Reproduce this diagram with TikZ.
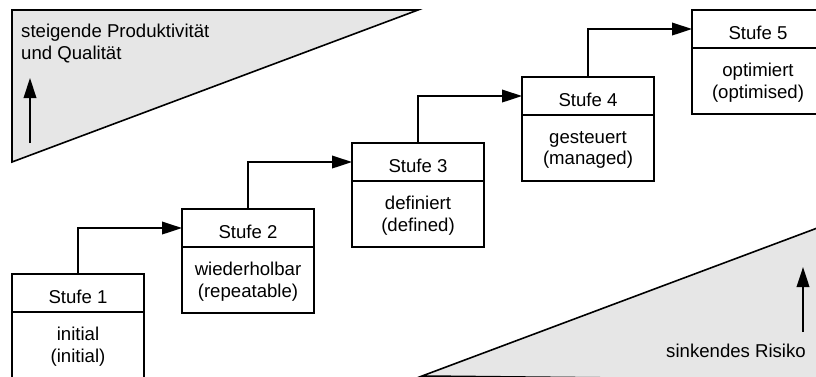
\documentclass[tikz,border=0pt]{standalone}
\usepackage{fontspec}
\setmainfont{Liberation Sans}
\usepackage{tikz}
\usetikzlibrary{arrows.meta, positioning}
\usepackage{xcolor}
\definecolor{keilgrau}{RGB}{230,230,230}

\begin{document}
\begin{tikzpicture}[
      x=1pt, y=-1pt,
      every node/.style={font=\fontsize{18.6}{21.5}\selectfont},
      kopf/.style={
        rectangle, draw=black, fill=white, line width=2pt,
        minimum width=132pt, minimum height=38pt,
        inner sep=0pt, outer sep=0pt,
        text height=21pt, text depth=0pt
      },
      rumpf/.style={
        kopf, minimum height=66pt, align=center,
        text height={}, text depth=0pt
      },
      keil/.style={draw=black, fill=keilgrau, line width=1.6pt, line join=miter},
      pfeil/.style={-{Triangle[length=20pt, width=12.5pt]}, line width=2.2pt, color=black}
    ]
      \useasboundingbox (0,0) rectangle (816,376);
      \clip (0,0) rectangle (816,376);

      % Keile
      \draw[keil] (12,10) -- (418,10) -- (12,162) -- cycle;
      \draw[keil] (422,376) -- (820,227) -- (820,380) -- cycle;

      \node[anchor=north west, inner sep=0pt, align=left] (prod) at (21,24)
        {steigende Produktivität\\und Qualität};
      \node[anchor=base east, inner sep=0pt] (risiko) at (806,357) {sinkendes Risiko};

      \coordinate (prodfuss) at (30,143);
      \coordinate (prodspitze) at (30,78);
      \coordinate (risikofuss) at (803,332);
      \coordinate (risikospitze) at (803,267);
      \draw[pfeil] (prodfuss) -- (prodspitze);
      \draw[pfeil] (risikofuss) -- (risikospitze);

      % Stufen
      \node[kopf] (stufe1) at (78,293) {Stufe 1};
      \node[rumpf, below=0pt of stufe1] (desc1) {initial\\(initial)};
      \node[kopf] (stufe2) at (248,228) {Stufe 2};
      \node[rumpf, below=0pt of stufe2] (desc2) {wiederholbar\\(repeatable)};
      \node[kopf] (stufe3) at (418,162) {Stufe 3};
      \node[rumpf, below=0pt of stufe3] (desc3) {definiert\\(defined)};
      \node[kopf] (stufe4) at (588,96) {Stufe 4};
      \node[rumpf, below=0pt of stufe4] (desc4) {gesteuert\\(managed)};
      \node[kopf] (stufe5) at (758,29) {Stufe 5};
      \node[rumpf, below=0pt of stufe5] (desc5) {optimiert\\(optimised)};

      \draw[pfeil] (stufe1.north) |- (stufe2.west);
      \draw[pfeil] (stufe2.north) |- (stufe3.west);
      \draw[pfeil] (stufe3.north) |- (stufe4.west);
      \draw[pfeil] (stufe4.north) |- (stufe5.west);
    \end{tikzpicture}
\end{document}
